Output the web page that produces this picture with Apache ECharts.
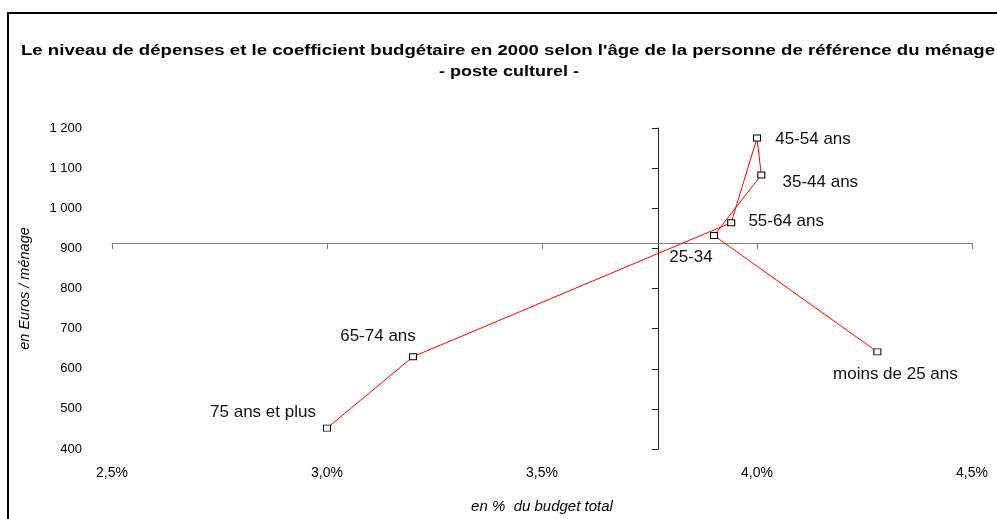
<!DOCTYPE html>
<html>
<head>
<meta charset="utf-8">
<title>poste culturel</title>
<script src="https://cdn.jsdelivr.net/npm/echarts@6/dist/echarts.min.js"></script>
<style>
  html, body { margin: 0; padding: 0; background: #fff; }
  #scatter-chart { width: 997px; height: 519px; }
</style>
</head>
<body>
<div id="scatter-chart"></div>
<script>
// age groups, in the order the red line joins them
var ages = ['moins de 25 ans', '25-34', '35-44 ans', '45-54 ans', '55-64 ans', '65-74 ans', '75 ans et plus'];
// coefficient budgetaire (% du budget total)
var budgetShare = [4.28, 3.90, 4.01, 4.00, 3.94, 3.20, 3.00];
// depenses en euros par menage
var spending = [642, 932, 1083, 1175, 964, 630, 452];

var xTicks = [2.5, 3.0, 3.5, 4.0, 4.5];
var yTicks = [400, 500, 600, 700, 800, 900, 1000, 1100, 1200];

var titleLines = [
	'Le niveau de dépenses et le coefficient budgétaire en 2000 selon l\'âge de la personne de référence du ménage',
	'- poste culturel -'
];

// where the two axes cross
var crossX = 3.77;
var crossY = 914;

// label offsets (px from marker centre)
var labelOffsets = [[18, 22], [-23, 22], [59, 7], [56, 1], [55, -1], [-35, -20], [-64, -16]];

var FONT = 'Liberation Sans, Arial, sans-serif';

function scatterChart() {
	var myChart = echarts.init(document.getElementById('scatter-chart'));
	var gridLeft = 112, gridRight = 25, gridTop = 128, gridBottom = 69;
	var plotW = 997 - gridLeft - gridRight;
	var plotH = 519 - gridTop - gridBottom;
	var xMin = xTicks[0], xMax = xTicks[xTicks.length - 1];
	var yMin = yTicks[0], yMax = yTicks[yTicks.length - 1];
	// pixel offsets of the crossing axes inside the grid
	var xAxisOffset = -(yMax - crossY) / (yMax - yMin) * plotH;
	var yAxisOffset = -(crossX - xMin) / (xMax - xMin) * plotW;

	var points = [];
	for (var i = 0; i < ages.length; i++) {
		points.push({
			name: ages[i],
			value: [budgetShare[i], spending[i]],
			label: { offset: labelOffsets[i] }
		});
	}

	// title drawn as stretched text (the original font is letter-spaced)
	var titleStyle = function (txt) {
		return {
			text: txt,
			fill: '#000',
			font: 'bold 15px ' + FONT,
			align: 'center',
			verticalAlign: 'middle',
			textAlign: 'center',
			textVerticalAlign: 'middle'
		};
	};

	var option = {
		animation: false,
		graphic: [
			{
				type: 'rect',
				shape: { x: 8, y: 13, width: 1100, height: 600 },
				style: { fill: 'none', stroke: '#000', lineWidth: 2 },
				silent: true
			},
			{
				type: 'text',
				x: 508,
				y: 51,
				scaleX: 1.24,
				style: titleStyle(titleLines[0]),
				silent: true
			},
			{
				type: 'text',
				x: 509,
				y: 72,
				scaleX: 1.2,
				style: titleStyle(titleLines[1]),
				silent: true
			}
		],
		grid: {
			left: gridLeft,
			right: gridRight,
			top: gridTop,
			bottom: gridBottom
		},
		xAxis: [
			{
				type: 'value',
				position: 'bottom',
				min: xMin,
				max: xMax,
				interval: 0.5,
				name: 'en %  du budget total',
				nameLocation: 'middle',
				nameGap: 50,
				nameTextStyle: { fontFamily: FONT, fontSize: 15, fontStyle: 'italic', color: '#000' },
				axisLine: { show: false },
				axisTick: { show: false },
				splitLine: { show: false },
				axisLabel: {
					margin: 17,
					fontFamily: FONT,
					fontSize: 14,
					color: '#000',
					formatter: function (v) { return v.toFixed(1).replace('.', ',') + '%'; }
				}
			},
			{
				type: 'value',
				position: 'top',
				offset: xAxisOffset,
				min: xMin,
				max: xMax,
				interval: 0.5,
				axisLine: { show: true, onZero: false, lineStyle: { color: '#808080', width: 1 } },
				axisTick: { show: true, inside: true, length: 6, lineStyle: { color: '#808080' } },
				axisLabel: { show: false },
				splitLine: { show: false }
			}
		],
		yAxis: [
			{
				type: 'value',
				position: 'left',
				min: yMin,
				max: yMax,
				interval: 100,
				name: 'en Euros / ménage',
				nameLocation: 'middle',
				nameGap: 80,
				nameTextStyle: { fontFamily: FONT, fontSize: 14.5, fontStyle: 'italic', color: '#000' },
				axisLine: { show: false },
				axisTick: { show: false },
				splitLine: { show: false },
				axisLabel: {
					margin: 30,
					fontFamily: FONT,
					fontSize: 13,
					color: '#000',
					formatter: function (v) {
						return v >= 1000 ? Math.floor(v / 1000) + ' ' + String(v % 1000).padStart(3, '0') : String(v);
					}
				}
			},
			{
				type: 'value',
				position: 'left',
				offset: yAxisOffset,
				min: yMin,
				max: yMax,
				interval: 100,
				axisLine: { show: true, onZero: false, lineStyle: { color: '#222', width: 1 } },
				axisTick: { show: true, length: 6, lineStyle: { color: '#222' } },
				axisLabel: { show: false },
				splitLine: { show: false }
			}
		],
		series: [
			{
				name: 'poste culturel',
				type: 'line',
				xAxisIndex: 0,
				yAxisIndex: 0,
				data: points,
				symbol: 'rect',
				symbolSize: [7, 6],
				showAllSymbol: true,
				itemStyle: { color: '#fff', borderColor: '#000', borderWidth: 1 },
				lineStyle: { color: '#ff0000', width: 1 },
				label: {
					show: true,
					position: 'inside',
					fontFamily: FONT,
					fontSize: 17,
					color: '#111',
					formatter: function (p) { return p.name; }
				},
				emphasis: { disabled: true },
				z: 3
			}
		]
	};
	myChart.setOption(option);
}

scatterChart();
</script>
</body>
</html>
